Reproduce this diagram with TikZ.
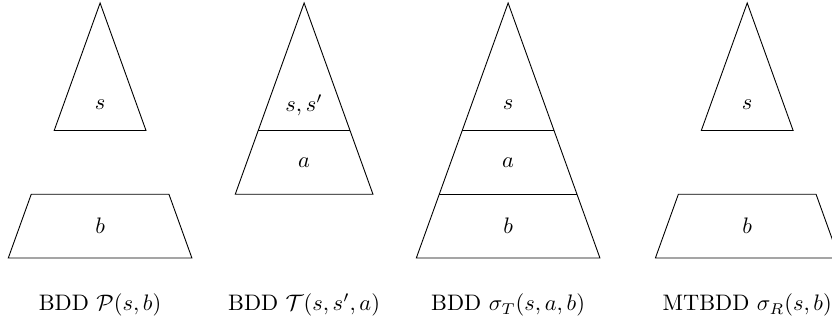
\documentclass[tikz,border=0pt]{standalone}
\usepackage{amsmath,amssymb}
\usepackage{tikz}
\usetikzlibrary{positioning,calc}

\begin{document}
\begin{tikzpicture}[lbl/.style={font=\normalsize}]
  \clip (-1.57,-1.035) rectangle (11.48,4.047);

  % BDD P(s,b)
  \draw (0,4) -- (0.72,2) -- (-0.72,2) -- cycle;
  \node[lbl] (p-s) at (0,2.4) {$s$};
  \draw (-1.08,1) -- (1.08,1) -- (1.44,0) -- (-1.44,0) -- cycle;
  \node[lbl] (p-b) at (0,0.5) {$b$};
  \node[lbl] (p-cap) at (0,-0.74) {BDD $\mathcal{P}(s,b)$};

  % BDD T(s,s',a)
  \draw (3.2,4) -- (4.28,1) -- (2.12,1) -- cycle;
  \draw (2.48,2) -- (3.92,2);
  \node[lbl] (t-s) at (3.2,2.4) {$s,s'$};
  \node[lbl] (t-a) at (3.2,1.5) {$a$};
  \node[lbl] (t-cap) at (3.2,-0.74) {BDD $\mathcal{T}(s,s',a)$};

  % BDD sigma_T(s,a,b)
  \draw (6.4,4) -- (7.84,0) -- (4.96,0) -- cycle;
  \draw (5.68,2) -- (7.12,2);
  \draw (5.32,1) -- (7.48,1);
  \node[lbl] (st-s) at (6.4,2.4) {$s$};
  \node[lbl] (st-a) at (6.4,1.5) {$a$};
  \node[lbl] (st-b) at (6.4,0.5) {$b$};
  \node[lbl] (st-cap) at (6.4,-0.74) {BDD $\sigma_T(s,a,b)$};

  % MTBDD sigma_R(s,b)
  \draw (10.15,4) -- (10.87,2) -- (9.43,2) -- cycle;
  \node[lbl] (sr-s) at (10.15,2.4) {$s$};
  \draw (9.07,1) -- (11.23,1) -- (11.59,0) -- (8.71,0) -- cycle;
  \node[lbl] (sr-b) at (10.15,0.5) {$b$};
  \node[lbl] (sr-cap) at (10.15,-0.74) {MTBDD $\sigma_R(s,b)$};
\end{tikzpicture}
\end{document}
